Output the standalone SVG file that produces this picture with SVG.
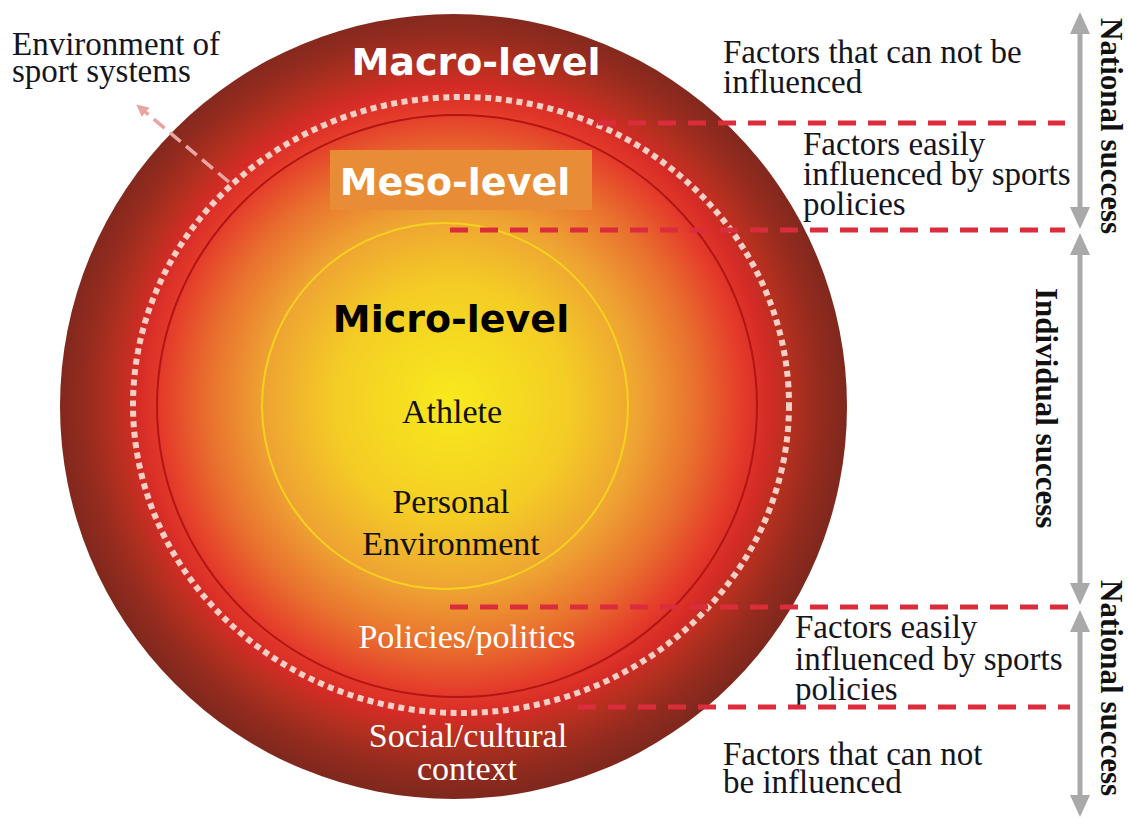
<svg xmlns="http://www.w3.org/2000/svg" width="1128" height="818" viewBox="0 0 1128 818">
<defs>
<radialGradient id="glow" gradientUnits="userSpaceOnUse" cx="452" cy="402" r="394">
<stop offset="0" stop-color="#f8ea1c"/>
<stop offset="0.3" stop-color="#f4cc25"/>
<stop offset="0.48" stop-color="#eea233"/>
<stop offset="0.62" stop-color="#e9702e"/>
<stop offset="0.74" stop-color="#e43a2a"/>
<stop offset="0.8" stop-color="#d52b26"/>
<stop offset="0.86" stop-color="#b5301f"/>
<stop offset="0.93" stop-color="#962b1f"/>
<stop offset="1" stop-color="#80281d"/>
</radialGradient>
<marker id="grayHead" viewBox="0 0 22 20" refX="0" refY="10" markerWidth="22" markerHeight="20" markerUnits="userSpaceOnUse" orient="auto-start-reverse">
<path d="M0,0 L22,10 L0,20 z" fill="#a9a9a9"/>
</marker>
<marker id="pinkHead" viewBox="0 0 12 12" refX="2" refY="6" markerWidth="12" markerHeight="12" markerUnits="userSpaceOnUse" orient="auto-start-reverse">
<path d="M0,0 L12,6 L0,12 z" fill="#e9a6a0"/>
</marker>
</defs>
<style>
.lvl{font-family:"DejaVu Sans",Verdana,sans-serif;font-weight:bold;font-size:38px;text-anchor:middle}
.ser{font-family:"Liberation Serif","Times New Roman",serif;font-size:34px;text-anchor:middle}
.note{font-family:"Liberation Serif","Times New Roman",serif;font-size:33px;fill:#15151f}
.vert{font-family:"Liberation Serif","Times New Roman",serif;font-size:31px;font-weight:bold;fill:#111}
.red{stroke:#da2c3a;stroke-width:5;stroke-dasharray:18 12;fill:none}
.gray{stroke:#a9a9a9;stroke-width:5;fill:none;marker-start:url(#grayHead);marker-end:url(#grayHead)}
</style>
<rect width="1128" height="818" fill="#ffffff"/>
<g id="macro-level">
<ellipse cx="453.5" cy="406.5" rx="393.5" ry="392.5" fill="url(#glow)"/>
<ellipse cx="461" cy="405" rx="328" ry="308" fill="none" stroke="#f4cfc6" stroke-width="6" stroke-dasharray="6 4.5"/>
<text class="lvl" x="476" y="75" fill="#ffffff">Macro-level</text>
<text class="ser" x="468" y="747" fill="#ffffff">Social/cultural</text>
<text class="ser" x="467" y="780" fill="#ffffff">context</text>
</g>
<g id="meso-level">
<ellipse cx="457" cy="406" rx="300" ry="291" fill="none" stroke="#b31414" stroke-width="2"/>
<rect x="330" y="150" width="262" height="60" fill="#e98c36"/>
<text class="lvl" x="455" y="195" fill="#ffffff">Meso-level</text>
<text class="ser" x="467" y="648" fill="#ffffff">Policies/politics</text>
</g>
<g id="micro-level">
<circle cx="445" cy="406" r="183" fill="none" stroke="#f6d21e" stroke-width="2"/>
<text class="lvl" x="451" y="332" fill="#000000">Micro-level</text>
<text class="ser" x="452" y="423" fill="#111111">Athlete</text>
<text class="ser" x="451" y="513" fill="#111111">Personal</text>
<text class="ser" x="451" y="555" fill="#111111">Environment</text>
</g>
<g id="environment-label">
<text class="note" x="12" y="55" font-size="32">Environment of</text>
<text class="note" x="12" y="82" font-size="32">sport systems</text>
</g>
<g id="annotation-top">
<text class="note" x="723" y="63">Factors that can not be</text>
<text class="note" x="723" y="93">influenced</text>
<text class="note" x="803" y="155">Factors easily</text>
<text class="note" x="803" y="185">influenced by sports</text>
<text class="note" x="803" y="215">policies</text>
</g>
<g id="annotation-bottom">
<text class="note" x="795" y="638">Factors easily</text>
<text class="note" x="795" y="670">influenced by sports</text>
<text class="note" x="795" y="700">policies</text>
<text class="note" x="723" y="765">Factors that can not</text>
<text class="note" x="723" y="793">be influenced</text>
</g>
<g id="success-labels">
<text class="vert" transform="translate(1101,18) rotate(90)">National success</text>
<text class="vert" transform="translate(1036,288) rotate(90)">Individual success</text>
<text class="vert" transform="translate(1101,580) rotate(90)">National success</text>
</g>
<g id="connectors">
<line class="red" x1="598" y1="123" x2="1065" y2="123"/>
<line class="red" x1="450" y1="230" x2="1065" y2="230"/>
<line class="red" x1="450" y1="607" x2="1070" y2="607"/>
<line class="red" x1="578" y1="707" x2="1070" y2="707"/>
<line class="gray" x1="1080" y1="34" x2="1080" y2="207"/>
<line class="gray" x1="1080" y1="255" x2="1080" y2="583"/>
<line class="gray" x1="1080" y1="632" x2="1080" y2="795"/>
<line x1="229" y1="182" x2="144" y2="111" stroke="#e9a6a0" stroke-width="3.5" stroke-dasharray="14 7" marker-end="url(#pinkHead)"/>
</g>
</svg>
